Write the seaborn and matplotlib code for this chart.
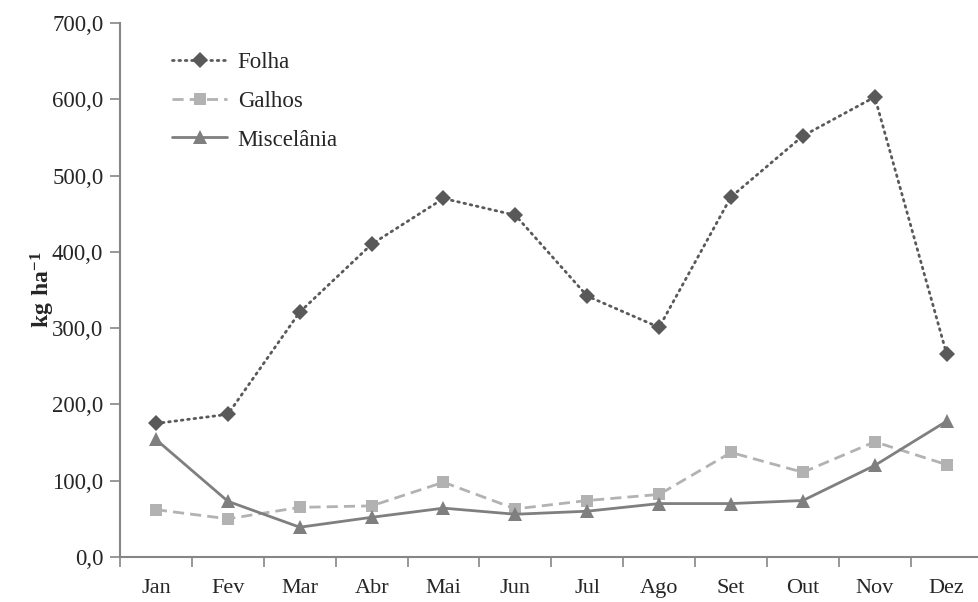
import numpy as np
import pandas as pd
import matplotlib
matplotlib.use("Agg")
import matplotlib.pyplot as plt
from matplotlib.ticker import FixedLocator, FuncFormatter
import seaborn as sns

months = ["Jan", "Fev", "Mar", "Abr", "Mai", "Jun", "Jul", "Ago", "Set", "Out", "Nov", "Dez"]
folha = [175, 187, 321, 410, 470, 448, 342, 301, 472, 552, 603, 266]
galhos = [62, 50, 65, 67, 98, 63, 74, 82, 137, 111, 151, 121]
miscelania = [154, 73, 39, 52, 64, 56, 60, 70, 70, 74, 120, 178]

series = ["Folha", "Galhos", "Miscelânia"]
COLORS = {"Folha": "#595959", "Galhos": "#b2b2b2", "Miscelânia": "#7f7f7f"}
MARKERS = {"Folha": "D", "Galhos": "s", "Miscelânia": "^"}
MSIZE = {"Folha": 8, "Galhos": 9, "Miscelânia": 9.5}
DASHES = {"Folha": (0.6, 1.7), "Galhos": (4, 2.2), "Miscelânia": ""}
AXIS_C = "#868686"

sns.set_style("white")
plt.rcParams["font.family"] = "serif"
plt.rcParams["font.serif"] = ["Liberation Serif", "DejaVu Serif"]
plt.rcParams["mathtext.fontset"] = "custom"
plt.rcParams["mathtext.rm"] = "Liberation Serif"
plt.rcParams["mathtext.bf"] = "Liberation Serif:bold"

df = pd.DataFrame({"mes": months * 3,
                   "x": list(range(12)) * 3,
                   "valor": folha + galhos + miscelania,
                   "serie": np.repeat(series, 12)})

fig = plt.figure(figsize=(9.79, 6.02), dpi=100)
ax = fig.add_axes([0.1226, 0.0748, 0.8774, 0.887])

for s in series:
    sub = df[df["serie"] == s]
    sns.lineplot(data=sub, x="x", y="valor", ax=ax, color=COLORS[s],
                 marker=MARKERS[s], markersize=MSIZE[s], markeredgewidth=0,
                 linewidth=2.0, label=s, sort=False)
    l = ax.lines[-1]
    if DASHES[s]:
        l.set_dashes(DASHES[s])
    if s == "Folha":
        l.set_dash_capstyle("round")

ax.set_xlim(-0.5, 11.45)
ax.set_ylim(0, 700)
ax.set_xticks(range(12))
ax.set_xticklabels(months, fontsize=16, family="serif")
ax.xaxis.set_minor_locator(FixedLocator(np.arange(-0.5, 12, 1)))
ax.tick_params(axis="x", which="major", length=0, pad=16)
ax.tick_params(axis="x", which="minor", length=7, direction="out", color=AXIS_C, width=1.2)
ax.set_yticks(np.arange(0, 701, 100))
ax.yaxis.set_major_formatter(FuncFormatter(lambda v, p: f"{v:.1f}".replace(".", ",")))
ax.tick_params(axis="y", length=7, direction="out", color=AXIS_C, width=1.2, labelsize=16.5, pad=5)
ax.tick_params(left=True, bottom=True, which="both")
for t in ax.get_yticklabels():
    t.set_family("serif")

for side in ["top", "right"]:
    ax.spines[side].set_visible(False)
for side in ["left", "bottom"]:
    ax.spines[side].set_color(AXIS_C)
    ax.spines[side].set_linewidth(1.5)

ax.set_xlabel("")
ax.set_ylabel(r"$\mathbf{kg\ ha^{-1}}$", fontsize=17, va="center")
ax.yaxis.set_label_coords(-0.09, 0.5)

leg = ax.legend(loc="upper left", bbox_to_anchor=(0.037, 0.985), frameon=False,
                prop={"family": "serif", "size": 16.5},
                handlelength=2.4, labelspacing=0.78, handletextpad=0.45)

fig.savefig("out.png", dpi=100)
plt.close(fig)
